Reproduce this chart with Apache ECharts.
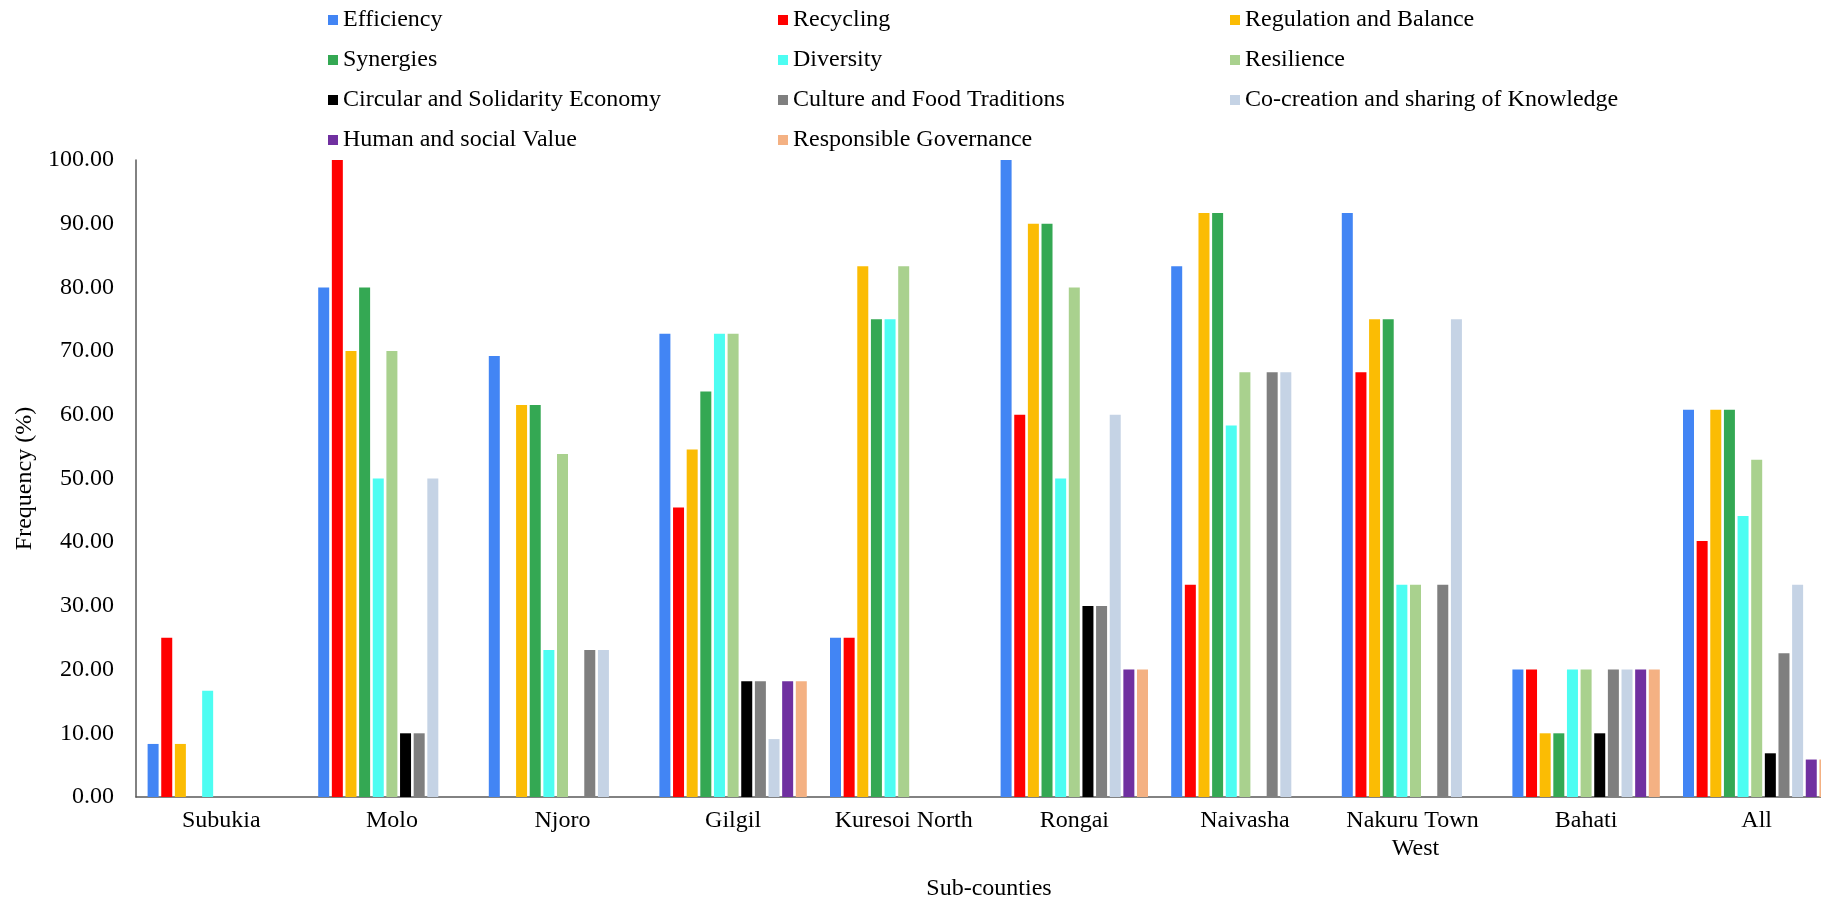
<!DOCTYPE html>
<html>
<head>
<meta charset="utf-8">
<script src="https://cdn.jsdelivr.net/npm/echarts@6/dist/echarts.min.js"></script>
<style>
html,body{margin:0;padding:0;background:#fff;overflow:hidden;}
#chart{width:1821px;height:899px;}
</style>
</head>
<body>
<div id="chart"></div>
<script>
const categories = ["Subukia","Molo","Njoro","Gilgil","Kuresoi North","Rongai","Naivasha","Nakuru Town West","Bahati","All"];
const seriesNames = ["Efficiency","Recycling","Regulation and Balance","Synergies","Diversity","Resilience","Circular and Solidarity Economy","Culture and Food Traditions","Co-creation and sharing of Knowledge","Human and social Value","Responsible Governance"];
const efficiency   = [8.33, 80, 69.23, 72.73, 25, 100, 83.33, 91.67, 20, 60.78];
const recycling    = [25, 100, 0, 45.45, 25, 60, 33.33, 66.67, 20, 40.2];
const regulation   = [8.33, 70, 61.54, 54.55, 83.33, 90, 91.67, 75, 10, 60.78];
const synergies    = [0, 80, 61.54, 63.64, 75, 90, 91.67, 75, 10, 60.78];
const diversity    = [16.67, 50, 23.08, 72.73, 75, 50, 58.33, 33.33, 20, 44.12];
const resilience   = [0, 70, 53.85, 72.73, 83.33, 80, 66.67, 33.33, 20, 52.94];
const circular     = [0, 10, 0, 18.18, 0, 30, 0, 0, 10, 6.86];
const culture      = [0, 10, 23.08, 18.18, 0, 30, 66.67, 33.33, 20, 22.55];
const cocreation   = [0, 50, 23.08, 9.09, 0, 60, 66.67, 75, 20, 33.33];
const human        = [0, 0, 0, 18.18, 0, 20, 0, 0, 20, 5.88];
const responsible  = [0, 0, 0, 18.18, 0, 20, 0, 0, 20, 5.88];
const yTicks = [0,10,20,30,40,50,60,70,80,90,100];

const values = [efficiency, recycling, regulation, synergies, diversity, resilience, circular, culture, cocreation, human, responsible];
const colors = ["#4285F4","#FF0000","#FBBC04","#34A853","#4DFDF2","#A9D18E","#000000","#7F7F7F","#C5D3E5","#7030A0","#F4B183"];

const font = "'Liberation Serif', 'Times New Roman', serif";
const legendBase = {
  orient: 'vertical', top: 6, padding: 0, itemGap: 12, itemWidth: 10, itemHeight: 10, icon: 'rect',
  selectedMode: false,
  textStyle: {fontFamily: font, fontSize: 24, lineHeight: 28, color: '#000'}
};

const chart = echarts.init(document.getElementById('chart'), null, {renderer: 'canvas'});
chart.setOption({
  animation: false,
  backgroundColor: '#fff',
  color: colors,
  legend: [
    Object.assign({}, legendBase, {left: 328, data: [seriesNames[0], seriesNames[3], seriesNames[6], seriesNames[9]]}),
    Object.assign({}, legendBase, {left: 778, data: [seriesNames[1], seriesNames[4], seriesNames[7], seriesNames[10]]}),
    Object.assign({}, legendBase, {left: 1230, data: [seriesNames[2], seriesNames[5], seriesNames[8]]})
  ],
  grid: {left: 136, top: 160, bottom: 102, right: -21, containLabel: false, outerBoundsMode: 'none'},
  xAxis: {
    type: 'category',
    data: categories,
    name: 'Sub-counties',
    nameLocation: 'middle',
    nameGap: 80,
    nameTextStyle: {fontFamily: font, fontSize: 24, color: '#000'},
    axisLine: {lineStyle: {color: '#595959', width: 1.5}},
    axisTick: {show: false},
    axisLabel: {fontFamily: font, fontSize: 24, color: '#000', margin: 10, lineHeight: 28, width: 170, overflow: 'break', interval: 0}
  },
  yAxis: {
    type: 'value',
    min: yTicks[0], max: yTicks[yTicks.length-1], interval: 10,
    name: 'Frequency (%)',
    nameLocation: 'middle',
    nameGap: 93,
    nameTextStyle: {fontFamily: font, fontSize: 24, color: '#000'},
    axisLine: {show: true, lineStyle: {color: '#595959', width: 1.5}},
    axisTick: {show: false},
    splitLine: {show: false},
    axisLabel: {fontFamily: font, fontSize: 24, color: '#000', margin: 22, formatter: v => v.toFixed(2)}
  },
  series: seriesNames.map((n, i) => ({
    name: n, type: 'bar', data: values[i], barWidth: 11, barGap: '24%',
    itemStyle: {color: colors[i]}
  }))
});
</script>
</body>
</html>
